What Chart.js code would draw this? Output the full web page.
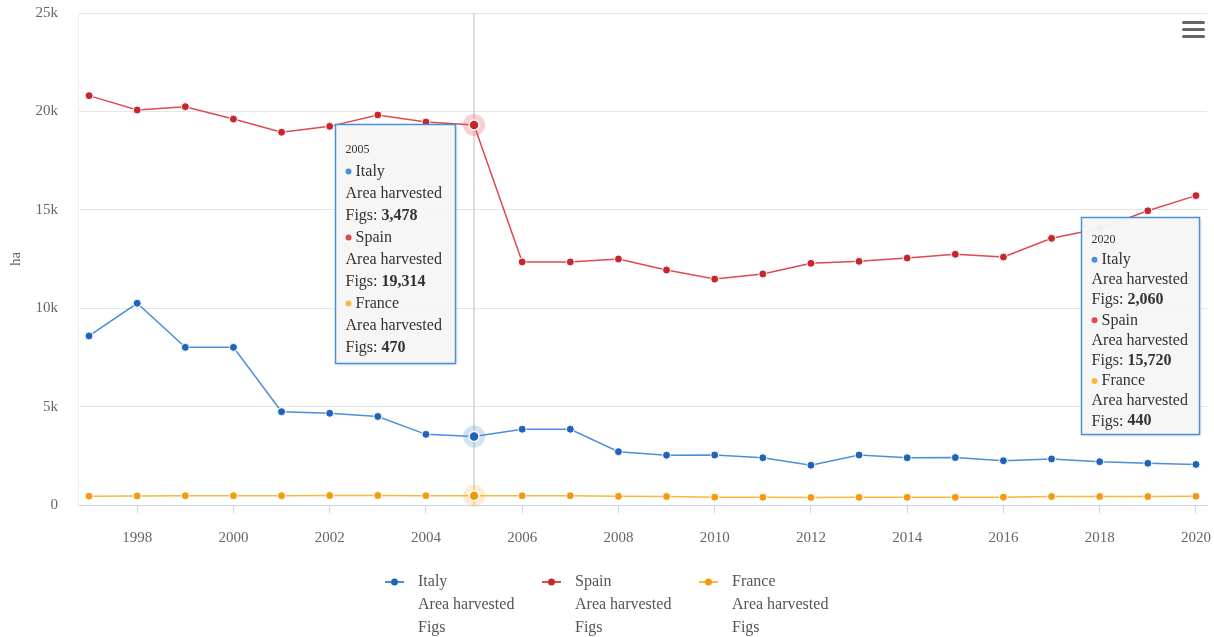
<!DOCTYPE html>
<html>
<head>
<meta charset="utf-8">
<script src="https://cdn.jsdelivr.net/npm/chart.js@4.4.0/dist/chart.umd.min.js"></script>
<style>
  html, body { margin: 0; padding: 0; background: #fff; }
  #wrap { width: 1214px; height: 637px; position: relative; }
</style>
</head>
<body>
<div id="wrap"><canvas id="figsChart"></canvas></div>
<script>
const years = [1997, 1998, 1999, 2000, 2001, 2002, 2003, 2004, 2005, 2006, 2007, 2008,
               2009, 2010, 2011, 2012, 2013, 2014, 2015, 2016, 2017, 2018, 2019, 2020];
const italy = [8590, 10250, 8010, 8010, 4740, 4660, 4500, 3590, 3478, 3850, 3850, 2710,
               2530, 2540, 2400, 2020, 2540, 2400, 2410, 2250, 2340, 2200, 2120, 2060];
const spain = [20800, 20070, 20240, 19610, 18940, 19240, 19820, 19460, 19314, 12350, 12350, 12500,
               11940, 11480, 11740, 12280, 12380, 12550, 12740, 12600, 13550, 14050, 14950, 15720];
const france = [450, 460, 470, 470, 470, 480, 480, 470, 470, 470, 470, 440,
                430, 400, 390, 380, 390, 390, 390, 400, 430, 430, 430, 440];

const seriesNames = ['Italy', 'Spain', 'France'];
const elementLabel = 'Area harvested';
const itemLabel = 'Figs';
const xTickYears = [1998, 2000, 2002, 2004, 2006, 2008, 2010, 2012, 2014, 2016, 2018, 2020];
const yTickValues = [0, 5000, 10000, 15000, 20000, 25000];
const yTickLabels = ['0', '5k', '10k', '15k', '20k', '25k'];
const yAxisTitle = 'ha';
const hoverYear = 2005;
const tooltipYears = [2005, 2020];

const lineColors = ['#4a90d9', '#de4a4f', '#f6b93b'];
const pointColors = ['#1f64b8', '#c8262d', '#f29b12'];
const FONT = "'Liberation Serif', 'Times New Roman', serif";

function toPoints(values) {
    return years.map((yr, i) => ({ x: yr, y: values[i] }));
}

// crosshair + hover halos at the highlighted year
const hoverPlugin = {
    id: 'hoverPlugin',
    beforeDatasetsDraw(chart) {
        const { ctx, chartArea, scales } = chart;
        const px = scales.x.getPixelForValue(hoverYear);
        ctx.save();
        ctx.strokeStyle = 'rgba(204,204,204,0.9)';
        ctx.lineWidth = 1.5;
        ctx.beginPath();
        ctx.moveTo(px, chartArea.top);
        ctx.lineTo(px, chartArea.bottom);
        ctx.stroke();
        ctx.restore();
    },
    afterDatasetsDraw(chart) {
        const { ctx, scales } = chart;
        const idx = years.indexOf(hoverYear);
        const px = scales.x.getPixelForValue(hoverYear);
        ctx.save();
        chart.data.datasets.forEach((ds, i) => {
            const py = scales.y.getPixelForValue(ds.data[idx].y);
            ctx.globalAlpha = 0.25;
            ctx.fillStyle = lineColors[i];
            ctx.beginPath();
            ctx.arc(px, py, 11, 0, Math.PI * 2);
            ctx.fill();
            ctx.globalAlpha = 1;
            ctx.fillStyle = pointColors[i];
            ctx.strokeStyle = '#fff';
            ctx.lineWidth = 1.5;
            ctx.beginPath();
            ctx.arc(px, py, 5, 0, Math.PI * 2);
            ctx.fill();
            ctx.stroke();
        });
        ctx.restore();
    }
};

// the two shared tooltips, drawn as in the screenshot
const tooltipPlugin = {
    id: 'tooltipPlugin',
    afterDraw(chart) {
        const { ctx, scales } = chart;
        const layouts = [
            { dx: -139, dy: -1, w: 120, h: 239, head: 25, lineH: 22 },
            { dx: -115, dy: 21, w: 118, h: 217, head: 22, lineH: 20.2 }
        ];
        tooltipYears.forEach((yr, t) => {
            const L = layouts[t];
            const idx = years.indexOf(yr);
            const px = scales.x.getPixelForValue(yr);
            const spainY = scales.y.getPixelForValue(spain[idx]);
            const bx = Math.round(px + L.dx) + 0.5;
            const by = Math.round(spainY + L.dy) + 0.5;
            ctx.save();
            ctx.shadowColor = 'rgba(0,0,0,0.18)';
            ctx.shadowOffsetX = 1;
            ctx.shadowOffsetY = 1;
            ctx.shadowBlur = 3;
            ctx.fillStyle = 'rgba(247,247,247,0.96)';
            ctx.fillRect(bx, by, L.w, L.h);
            ctx.shadowColor = 'transparent';
            ctx.strokeStyle = '#4a90d9';
            ctx.lineWidth = 1.5;
            ctx.strokeRect(bx, by, L.w, L.h);

            const tx = bx + 10;
            let ty = by + L.head;
            ctx.textBaseline = 'middle';
            ctx.fillStyle = '#333';
            ctx.font = '12px ' + FONT;
            ctx.fillText(String(yr), tx, ty);
            const values = [italy[idx], spain[idx], france[idx]];
            seriesNames.forEach((name, i) => {
                ty += L.lineH;
                ctx.fillStyle = lineColors[i];
                ctx.beginPath();
                ctx.arc(tx + 3, ty, 3, 0, Math.PI * 2);
                ctx.fill();
                ctx.fillStyle = '#333';
                ctx.font = '16px ' + FONT;
                ctx.fillText(name, tx + 10, ty);
                ty += L.lineH;
                ctx.fillText(elementLabel, tx, ty);
                ty += L.lineH;
                const pre = itemLabel + ': ';
                ctx.fillText(pre, tx, ty);
                const w = ctx.measureText(pre).width;
                ctx.font = 'bold 16px ' + FONT;
                ctx.fillText(values[i].toLocaleString('en-US'), tx + w, ty);
            });
            ctx.restore();
        });
    }
};

// multi-line legend under the plot + context menu icon
const legendPlugin = {
    id: 'legendPlugin',
    afterDraw(chart) {
        const { ctx } = chart;
        ctx.save();
        ctx.font = '16px ' + FONT;
        const textW = ctx.measureText(elementLabel).width;
        const itemW = 157;
        const symW = 33;
        const total = itemW * (seriesNames.length - 1) + symW + textW;
        let x = Math.round(chart.width / 2 - total / 2);
        const y0 = 582;
        const lh = 23;
        seriesNames.forEach((name, i) => {
            ctx.strokeStyle = lineColors[i];
            ctx.lineWidth = 2;
            ctx.setLineDash([6, 7]);
            ctx.beginPath();
            ctx.moveTo(x, y0);
            ctx.lineTo(x + 19, y0);
            ctx.stroke();
            ctx.setLineDash([]);
            ctx.fillStyle = pointColors[i];
            ctx.beginPath();
            ctx.arc(x + 9.5, y0, 3.5, 0, Math.PI * 2);
            ctx.fill();
            ctx.fillStyle = '#555';
            ctx.textBaseline = 'middle';
            ctx.fillText(name, x + symW, y0);
            ctx.fillText(elementLabel, x + symW, y0 + lh);
            ctx.fillText(itemLabel, x + symW, y0 + lh * 2);
            x += itemW;
        });
        // hamburger
        ctx.fillStyle = '#666';
        [21, 28, 35].forEach(yy => {
            ctx.beginPath();
            ctx.roundRect(1182, yy, 23, 3, 1.5);
            ctx.fill();
        });
        ctx.restore();
    }
};

new Chart(document.getElementById('figsChart'), {
    type: 'line',
    data: {
        datasets: [italy, spain, france].map((vals, i) => ({
            label: seriesNames[i],
            data: toPoints(vals),
            borderColor: lineColors[i],
            backgroundColor: pointColors[i],
            pointBackgroundColor: pointColors[i],
            pointBorderColor: '#ffffff',
            pointBorderWidth: 1,
            pointRadius: 4,
            borderWidth: 1.5,
            tension: 0,
            fill: false
        }))
    },
    options: {
        responsive: true,
        maintainAspectRatio: false,
        animation: false,
        events: [],
        layout: { padding: { top: 13, right: 7, left: 0, bottom: 0 } },
        scales: {
            x: {
                type: 'linear',
                min: 1996.77,
                max: 2020.23,
                afterBuildTicks: scale => { scale.ticks = xTickYears.map(v => ({ value: v })); },
                afterFit: scale => {
                    scale.height = 132;
                    scale.paddingLeft = 0;
                    scale.paddingRight = 0;
                },
                ticks: {
                    color: '#666',
                    font: { family: FONT, size: 15 },
                    padding: 16,
                    maxRotation: 0,
                    callback: v => String(v)
                },
                grid: { drawOnChartArea: false, drawTicks: true, tickLength: 8, color: '#ccd6eb' },
                border: { display: true, color: '#ccd6eb', width: 1 }
            },
            y: {
                min: 0,
                max: 25000,
                afterBuildTicks: scale => { scale.ticks = yTickValues.map(v => ({ value: v })); },
                afterFit: scale => {
                    scale.width = 78;
                    scale.paddingTop = 0;
                    scale.paddingBottom = 0;
                },
                title: {
                    display: true,
                    text: yAxisTitle,
                    color: '#666',
                    font: { family: FONT, size: 15 },
                    padding: { top: 7, bottom: 0 }
                },
                ticks: {
                    color: '#666',
                    font: { family: FONT, size: 15 },
                    padding: 20,
                    callback: (v, i) => yTickLabels[yTickValues.indexOf(v)]
                },
                grid: { color: '#e6e6e6', drawTicks: false },
                border: { display: true, color: '#eeeeee' }
            }
        },
        plugins: {
            legend: { display: false },
            tooltip: { enabled: false }
        }
    },
    plugins: [hoverPlugin, tooltipPlugin, legendPlugin]
});
</script>
</body>
</html>
